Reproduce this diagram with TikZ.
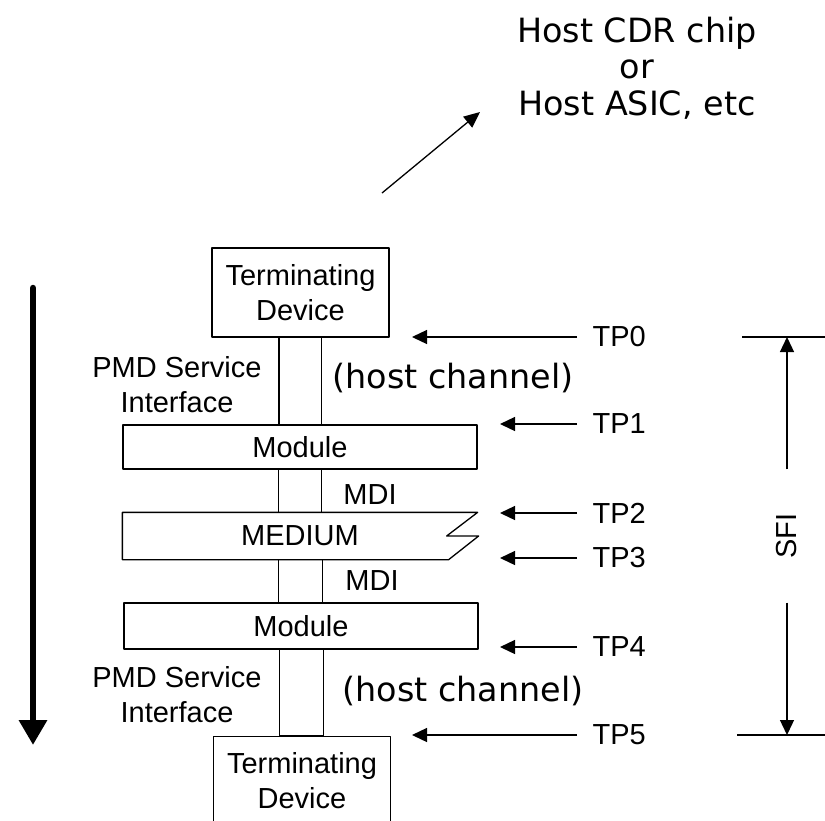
\documentclass[tikz,border=0pt]{standalone}
\usepackage{fontspec}
\setmainfont{Liberation Sans}
\newfontfamily\verd{DejaVu Sans}
\usetikzlibrary{arrows.meta}
\begin{document}
\begin{tikzpicture}[x=0.5pt,y=-0.5pt,line width=0.65pt,line join=round,
	font=\fontsize{14.5}{17.5}\selectfont,>={Triangle[length=7.5pt,width=7pt]},
	box/.style={draw,align=center,inner sep=0pt},
	dev/.style={box,minimum width=88.5pt,minimum height=44.5pt},
	mod/.style={box,minimum width=177pt,minimum height=22pt},
	tp/.style={anchor=west,inner xsep=7.5pt,inner ysep=0pt},
	big/.style={font=\verd\fontsize{16.7}{18.25}\selectfont}]
	\useasboundingbox (0,0) rectangle (825,820);
	% the stack
	\node[dev] (td1) at (300.5,292.5) {Terminating\\Device};
	\node[mod] (mod1) at (300,447) {Module};
	\node[box,draw=none,minimum width=177pt,minimum height=23pt] (med) at (300,536) {MEDIUM};
	\node[mod,minimum height=23pt] (mod2) at (301,626) {Module};
	\node[dev] (td2) at (302,781) {Terminating\\Device};
	\draw (med.north west)--(med.north east)--([xshift=-15.5pt]med.east)--([xshift=0.5pt]med.east)--([xshift=-14.5pt]med.south east)--(med.south west)--cycle;
	\draw ([xshift=-10.75pt]td1.south) rectangle ([xshift=10.75pt]mod1.north);
	\draw ([xshift=-10.75pt]mod1.south) rectangle ([xshift=10.75pt]med.north);
	\draw ([xshift=-10.75pt]med.south) rectangle ([xshift=10.75pt]mod2.north);
	\draw ([xshift=-10.75pt]mod2.south) rectangle ([xshift=10.75pt]td2.north);
	% labels
	\node[align=center] (pmd1) at (177,385) {PMD Service\\Interface};
	\node[align=center] (pmd2) at (177,694.5) {PMD Service\\Interface};
	\node[big,anchor=west,inner sep=0pt] (hc1) at (332,378) {(host channel)};
	\node[big,anchor=west,inner sep=0pt] (hc2) at (342,691) {(host channel)};
	\node (mdi1) at (370,495) {MDI};\node (mdi2) at (372,581) {MDI};
	% test points
	\foreach \n/\y/\t in {0/337/412,1/424/500,2/513/500,3/558/500,4/647/500,5/735/412}{
		\node[tp] (tp\n) at (577,\y) {TP\n};
		\coordinate (tip\n) at (\t,\y);
		\draw[->] (tp\n)--(tip\n);
	}
	% SFI
	\node[rotate=90,minimum width=66pt,inner sep=0pt] (sfi) at (787,536) {SFI};
	\draw[->] (sfi.east)--(sfi.east |- tp0);\draw[->] (sfi.west)--(sfi.west |- tp5);
	\draw ([xshift=-22.5pt]sfi.east |- tp0)--++(50pt,0);
	\draw ([xshift=-25pt]sfi.west |- tp5)--++(50pt,0);
	% host
	\node[big,align=center] (host) at (637,68) {Host CDR chip\\or\\Host ASIC, etc};
	\coordinate (hfrom) at (382,193);\coordinate (hto) at (480,112);
	\draw[-{Triangle[length=8pt,width=7pt]}] (hfrom)--(hto);
	% direction
	\coordinate (ftop) at (33,288);\coordinate (fend) at (33,745);
	\draw[line width=3.25pt,line cap=round,-{Triangle[length=12.5pt,width=13.5pt]}] (ftop)--(fend);
\end{tikzpicture}
\end{document}
